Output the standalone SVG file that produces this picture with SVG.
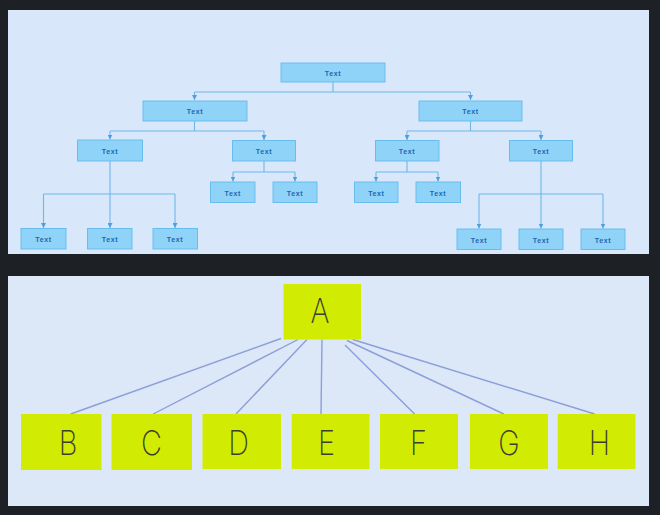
<svg xmlns="http://www.w3.org/2000/svg" width="660" height="515" viewBox="0 0 660 515">
<defs>
<marker id="ah" viewBox="0 0 6 6" refX="6" refY="3" markerWidth="5" markerHeight="5" orient="auto" markerUnits="userSpaceOnUse">
<path d="M0,0 L6,3 L0,6 Z" fill="#4f9fe0"/>
</marker>
<style>
.panel{fill:#d8e8fa}
.panel2{fill:#dce8f8}
.n rect{fill:#8fd3f8;stroke:#68bdee;stroke-width:1}
.n text{font-family:"Liberation Sans",Arial,sans-serif;font-weight:bold;font-size:7px;letter-spacing:0.6px;fill:#2366b0;text-anchor:middle}
.c path{fill:none;stroke:#6fb6ea;stroke-width:1.1}
.y rect{fill:#d1eb02}
.y text{font-family:Inter,Lato,sans-serif;font-weight:200;font-size:34px;fill:#3a4030;text-anchor:middle}
.c2 line{stroke:#8d9ed8;stroke-width:1.4}
</style>
</defs>
<rect x="0" y="0" width="660" height="515" fill="#1d2125"/>
<rect class="panel" x="8" y="10" width="641" height="244"/>
<rect class="panel2" x="8" y="276" width="641" height="230"/>

<g class="c" id="connectors-top">
<path d="M333,82 V92 M194.5,92 H470.5"/>
<path d="M194.5,92 V100" marker-end="url(#ah)"/>
<path d="M470.5,92 V100" marker-end="url(#ah)"/>
<path d="M194.5,121 V131 M110,131 H264"/>
<path d="M110,131 V139.5" marker-end="url(#ah)"/>
<path d="M264,131 V140" marker-end="url(#ah)"/>
<path d="M470.5,121 V131 M407,131 H541"/>
<path d="M407,131 V140" marker-end="url(#ah)"/>
<path d="M541,131 V140" marker-end="url(#ah)"/>
<path d="M264,161 V172 M233,172 H295"/>
<path d="M233,172 V181.5" marker-end="url(#ah)"/>
<path d="M295,172 V181.5" marker-end="url(#ah)"/>
<path d="M407,161 V172 M376,172 H438"/>
<path d="M376,172 V181.5" marker-end="url(#ah)"/>
<path d="M438,172 V181.5" marker-end="url(#ah)"/>
<path d="M43.5,194 H175"/>
<path d="M110,161 V228" marker-end="url(#ah)"/>
<path d="M43.5,194 V228" marker-end="url(#ah)"/>
<path d="M175,194 V228" marker-end="url(#ah)"/>
<path d="M479,194 H603"/>
<path d="M541,161 V228.5" marker-end="url(#ah)"/>
<path d="M479,194 V228.5" marker-end="url(#ah)"/>
<path d="M603,194 V228.5" marker-end="url(#ah)"/>
</g>

<g class="n" id="t1"><rect x="281" y="63" width="104" height="19"/><text x="333" y="75.5">Text</text></g>
<g class="n" id="t2"><rect x="143" y="101" width="104" height="20"/><text x="195" y="114">Text</text></g>
<g class="n" id="t3"><rect x="419" y="101" width="103" height="20"/><text x="470.5" y="114">Text</text></g>
<g class="n" id="t4"><rect x="77.5" y="140" width="65" height="21"/><text x="110" y="153.5">Text</text></g>
<g class="n" id="t5"><rect x="232.5" y="140.5" width="63" height="20.5"/><text x="264" y="154">Text</text></g>
<g class="n" id="t6"><rect x="375.5" y="140.5" width="63.5" height="20.5"/><text x="407" y="154">Text</text></g>
<g class="n" id="t7"><rect x="509.5" y="140.5" width="63" height="20.5"/><text x="541" y="154">Text</text></g>
<g class="n" id="t8"><rect x="210.5" y="182" width="44.5" height="20.5"/><text x="232.7" y="195.5">Text</text></g>
<g class="n" id="t9"><rect x="273" y="182" width="44" height="20.5"/><text x="295" y="195.5">Text</text></g>
<g class="n" id="t10"><rect x="354.5" y="182" width="43.5" height="20.5"/><text x="376.3" y="195.5">Text</text></g>
<g class="n" id="t11"><rect x="416" y="182" width="44.5" height="20.5"/><text x="438" y="195.5">Text</text></g>
<g class="n" id="t12"><rect x="21" y="228.5" width="45" height="20.5"/><text x="43.5" y="242">Text</text></g>
<g class="n" id="t13"><rect x="87.5" y="228.5" width="44.5" height="20.5"/><text x="110" y="242">Text</text></g>
<g class="n" id="t14"><rect x="153" y="228.5" width="44.5" height="20.5"/><text x="175" y="242">Text</text></g>
<g class="n" id="t15"><rect x="457" y="229" width="44" height="20.5"/><text x="479" y="242.5">Text</text></g>
<g class="n" id="t16"><rect x="519" y="229" width="44" height="20.5"/><text x="541" y="242.5">Text</text></g>
<g class="n" id="t17"><rect x="581" y="229" width="44" height="20.5"/><text x="603" y="242.5">Text</text></g>

<g class="c2" id="connectors-bottom">
<line x1="281" y1="338.5" x2="70.7" y2="414"/>
<line x1="298" y1="339.5" x2="153.2" y2="414"/>
<line x1="307" y1="339.5" x2="236" y2="414"/>
<line x1="322" y1="339.5" x2="321" y2="414"/>
<line x1="345" y1="345" x2="414.6" y2="414"/>
<line x1="347" y1="340.5" x2="503.8" y2="414"/>
<line x1="352.7" y1="339.5" x2="594.7" y2="414"/>
</g>

<g class="y" id="A"><rect x="283.5" y="284" width="77.5" height="55.5"/><text x="320" y="323" transform="translate(320 0) scale(0.85 1) translate(-320 0)">A</text></g>
<g class="y" id="B"><rect x="21" y="414" width="80.5" height="56"/><text x="68" y="455" transform="translate(68 0) scale(0.85 1) translate(-68 0)">B</text></g>
<g class="y" id="C"><rect x="111.5" y="414" width="80.5" height="56"/><text x="151.5" y="455" transform="translate(151.5 0) scale(0.85 1) translate(-151.5 0)">C</text></g>
<g class="y" id="D"><rect x="202.5" y="414" width="78.5" height="55"/><text x="238.5" y="455" transform="translate(238.5 0) scale(0.85 1) translate(-238.5 0)">D</text></g>
<g class="y" id="E"><rect x="291.7" y="414" width="77.8" height="55"/><text x="326.5" y="455" transform="translate(326.5 0) scale(0.85 1) translate(-326.5 0)">E</text></g>
<g class="y" id="F"><rect x="380" y="414" width="78" height="55"/><text x="418.5" y="455" transform="translate(418.5 0) scale(0.85 1) translate(-418.5 0)">F</text></g>
<g class="y" id="G"><rect x="470" y="414" width="78" height="55"/><text x="509" y="455" transform="translate(509 0) scale(0.85 1) translate(-509 0)">G</text></g>
<g class="y" id="H"><rect x="557.7" y="414" width="77.8" height="55"/><text x="599.5" y="455" transform="translate(599.5 0) scale(0.85 1) translate(-599.5 0)">H</text></g>
</svg>
